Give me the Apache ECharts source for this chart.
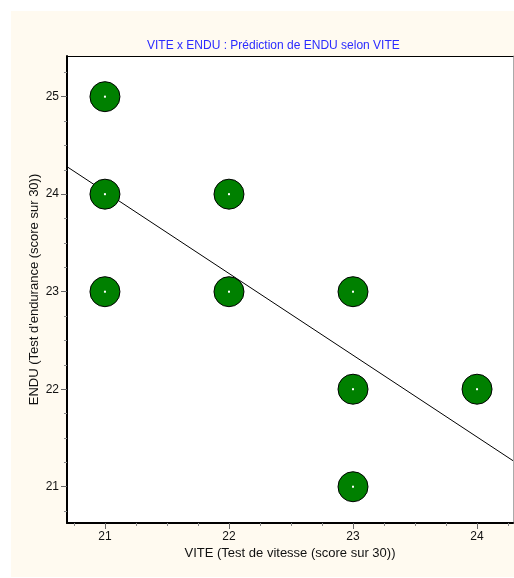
<!DOCTYPE html>
<html>
<head>
<meta charset="utf-8">
<style>
html,body{margin:0;padding:0;background:#ffffff;}
#chart{width:514px;height:578px;}
</style>
<script src="https://cdn.jsdelivr.net/npm/echarts@6/dist/echarts.min.js"></script>
</head>
<body>
<div id="chart"></div>
<script>
// Data
const vite = [21, 21, 21, 22, 22, 23, 23, 23, 24];
const endu = [25, 24, 23, 24, 23, 23, 22, 21, 22];
// regression line end points
const lineX = [20.694, 24.29];
const lineY = [24.282, 21.267];
// tick labels
const xMajor = [21, 22, 23, 24];
const yMajor = [21, 22, 23, 24, 25];
const xMinor = [20.75, 21.25, 21.5, 21.75, 22.25, 22.5, 22.75, 23.25, 23.5, 23.75, 24.25];
const yMinor = [20.75, 21.25, 21.5, 21.75, 22.25, 22.5, 22.75, 23.25, 23.5, 23.75, 24.25, 24.5, 24.75, 25.25];

const titleText = 'VITE x ENDU : Prédiction de ENDU selon VITE';
const xName = 'VITE (Test de vitesse (score sur 30))';
const yName = "ENDU (Test d'endurance (score sur 30))";

const xMin = 20.694, xMax = 24.29, yMin = 20.628, yMax = 25.417;

const points = vite.map((v, i) => [v, endu[i]]);
const linePts = lineX.map((v, i) => [v, lineY[i]]);

const font = 'Liberation Sans, Arial, sans-serif';
const chart = echarts.init(document.getElementById('chart'), null, {renderer: 'canvas'});
chart.setOption({
  animation: false,
  backgroundColor: '#ffffff',
  textStyle: {fontFamily: font},
  graphic: [{
    type: 'rect', z: -10, silent: true,
    shape: {x: 11, y: 11, width: 503, height: 566},
    style: {fill: '#FFFAF0'}
  }],
  title: {
    text: titleText,
    left: 142, top: 35,
    textStyle: {color: '#2b2bff', fontSize: 12, fontWeight: 'normal', fontFamily: font}
  },
  grid: {left: 67, top: 56, right: 1, bottom: 55, show: true, backgroundColor: '#ffffff', borderWidth: 0},
  xAxis: [{
    type: 'value', position: 'bottom', min: xMin, max: xMax,
    axisLine: {show: true, lineStyle: {color: '#000', width: 2}},
    axisTick: {show: true, customValues: xMajor, length: 6, lineStyle: {color: '#666', width: 1}},
    axisLabel: {customValues: xMajor, color: '#111', fontSize: 12, margin: 8, fontFamily: font},
    splitLine: {show: false},
    name: xName, nameLocation: 'middle', nameGap: 24, nameMoveOverlap: false,
    nameTextStyle: {color: '#111', fontSize: 13, fontFamily: font}
  }, {
    type: 'value', position: 'bottom', min: xMin, max: xMax,
    axisLine: {show: false},
    axisTick: {show: true, customValues: xMinor, length: 3, lineStyle: {color: '#888', width: 1}},
    axisLabel: {show: false},
    splitLine: {show: false}
  }, {
    type: 'value', position: 'top', min: xMin, max: xMax,
    axisLine: {show: true, lineStyle: {color: '#000', width: 1}},
    axisTick: {show: false}, axisLabel: {show: false}, splitLine: {show: false}
  }],
  yAxis: [{
    type: 'value', position: 'left', min: yMin, max: yMax,
    axisLine: {show: true, lineStyle: {color: '#000', width: 2}},
    axisTick: {show: true, customValues: yMajor, length: 6, lineStyle: {color: '#666', width: 1}},
    axisLabel: {customValues: yMajor, color: '#111', fontSize: 12, margin: 8, fontFamily: font},
    splitLine: {show: false},
    name: yName, nameLocation: 'middle', nameGap: 26, nameMoveOverlap: false,
    nameTextStyle: {color: '#111', fontSize: 13, fontFamily: font}
  }, {
    type: 'value', position: 'left', min: yMin, max: yMax,
    axisLine: {show: false},
    axisTick: {show: true, customValues: yMinor, length: 3, lineStyle: {color: '#888', width: 1}},
    axisLabel: {show: false},
    splitLine: {show: false}
  }, {
    type: 'value', position: 'right', min: yMin, max: yMax,
    axisLine: {show: true, lineStyle: {color: '#aaa', width: 1}},
    axisTick: {show: false}, axisLabel: {show: false}, splitLine: {show: false}
  }],
  series: [{
    type: 'line', data: linePts, symbol: 'none', silent: true,
    lineStyle: {color: '#000', width: 1}, z: 1
  }, {
    type: 'scatter', data: points, symbol: 'circle', symbolSize: 30,
    itemStyle: {color: '#008000', borderColor: '#000', borderWidth: 1, opacity: 1}, z: 2
  }, {
    type: 'scatter', data: points, symbol: 'rect', symbolSize: 2,
    itemStyle: {color: '#ffffff', opacity: 1}, z: 3, silent: true
  }]
});
</script>
</body>
</html>
